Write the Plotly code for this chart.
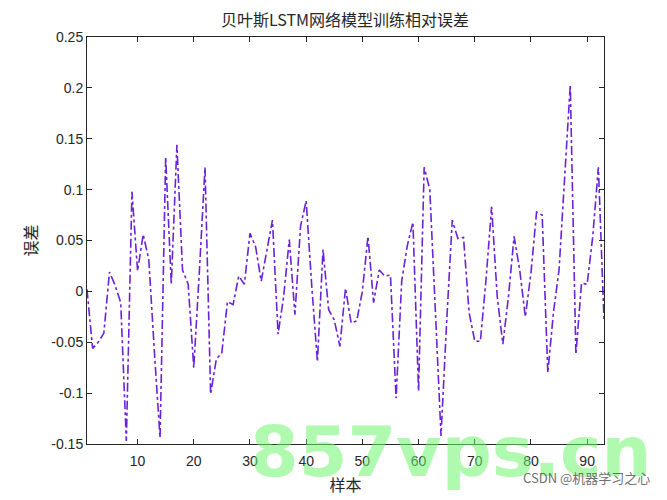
import plotly.graph_objects as go

samples = list(range(1, 94))
errors = [
    0.002, -0.056, -0.050, -0.041, 0.019, 0.006, -0.011, -0.147, 0.098, 0.020,
    0.056, 0.031, -0.060, -0.144, 0.132, 0.007, 0.144, 0.021, 0.007, -0.075,
    0.020, 0.122, -0.101, -0.067, -0.060, -0.010, -0.013, 0.015, 0.007, 0.057,
    0.044, 0.010, 0.040, 0.070, -0.042, -0.005, 0.051, -0.023, 0.064, 0.089,
    0.005, -0.069, 0.041, -0.018, -0.028, -0.054, 0.003, -0.031, -0.029, 0.000,
    0.054, -0.011, 0.021, 0.015, 0.016, -0.105, 0.010, 0.045, 0.068, -0.098,
    0.122, 0.100, -0.020, -0.142, -0.030, 0.070, 0.052, 0.053, -0.021, -0.049,
    -0.049, 0.011, 0.083, -0.005, -0.052, -0.005, 0.054, 0.021, -0.025, 0.018,
    0.078, 0.075, -0.080, -0.021, 0.021, 0.110, 0.203, -0.062, 0.008, 0.007,
    0.054, 0.122, -0.028,
]
x_ticks = [10, 20, 30, 40, 50, 60, 70, 80, 90]
y_ticks = [-0.15, -0.1, -0.05, 0, 0.05, 0.1, 0.15, 0.2, 0.25]
y_tick_text = ["-0.15", "-0.1", "-0.05", "0", "0.05", "0.1", "0.15", "0.2", "0.25"]

title_text = "贝叶斯LSTM网络模型训练相对误差"
x_label = "样本"
y_label = "误差"
watermark_text = "857vps.cn"
credit_text = "CSDN @机器学习之心"

cjk = "Noto Sans CJK SC"
num_font = "Liberation Sans, Arial"

fig = go.Figure()
fig.add_trace(go.Scatter(
    x=samples, y=errors, mode="lines",
    line=dict(color="#6A22D8", width=1.6, dash="dashdot"),
    showlegend=False,
))

axis_common = dict(
    showgrid=False, zeroline=False, showline=True, linecolor="#262626",
    linewidth=1, mirror="ticks", ticks="inside", ticklen=5, tickcolor="#262626",
    tickfont=dict(family=num_font, size=14, color="#262626"), automargin=False,
)
fig.update_xaxes(range=[1, 93], tickvals=x_ticks, ticklabelstandoff=4, **axis_common,
                 title=dict(text=x_label, font=dict(family=cjk, size=16, color="#262626"), standoff=12))
fig.update_yaxes(range=[-0.15, 0.25], tickvals=y_ticks, ticktext=y_tick_text, **axis_common,
                 title=dict(text=y_label, font=dict(family=cjk, size=16, color="#262626"), standoff=9))

# page body has an 8px margin: compensate so the plot lands where the reference has it
OFF = 8
W, H = 667 - OFF, 500 - OFF
ML, MR, MT, MB = 87 - OFF, 63, 37 - OFF, 56
fig.update_layout(
    width=W, height=H,
    margin=dict(l=ML, r=MR, t=MT, b=MB),
    paper_bgcolor="white", plot_bgcolor="white",
    title=dict(text=title_text, x=(345 - OFF) / W, xanchor="center", y=1 - 12 / H, yanchor="middle",
               font=dict(family=cjk, size=16, color="#262626")),
)

pw, ph = W - ML - MR, H - MT - MB
def px(xp):
    return (xp - OFF - ML) / pw
def py(yp):
    return (H - MB - (yp - OFF)) / ph

fig.add_annotation(text="<b>" + watermark_text + "</b>", x=px(450), y=py(452), xref="paper", yref="paper",
                   showarrow=False, xanchor="center", yanchor="middle",
                   font=dict(family="DejaVu Sans", size=70, color="rgba(110,245,110,0.55)"))
fig.add_annotation(text=credit_text, x=px(652), y=py(478), xref="paper", yref="paper",
                   showarrow=False, xanchor="right", yanchor="middle",
                   font=dict(family=cjk, size=13, color="rgba(90,90,90,0.9)"))

fig.write_html("out.html")
